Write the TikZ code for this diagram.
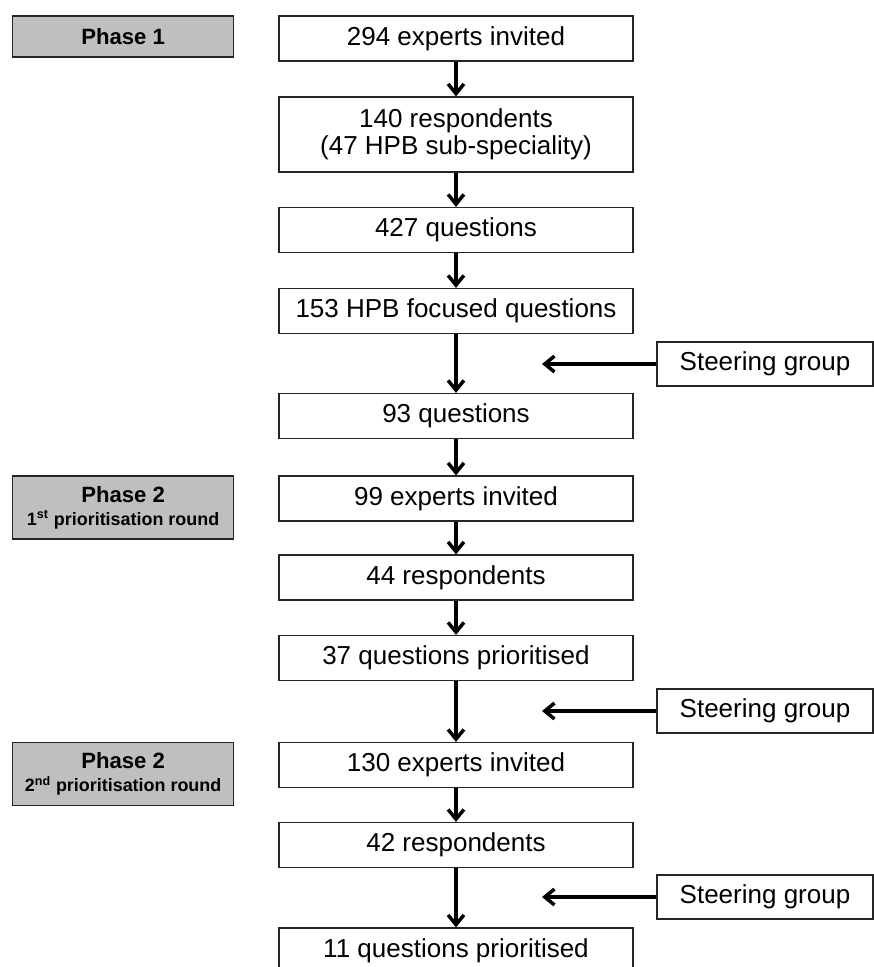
\documentclass[tikz,border=0pt]{standalone}
\usepackage{fontspec}
\setmainfont{Liberation Sans}
\usetikzlibrary{arrows.meta}

\begin{document}
\begin{tikzpicture}
    \tikzstyle{box} = [draw=black!85, line width=0.7pt, align=center, minimum width=7.08cm, minimum height=0.9cm, inner sep=2pt, font=\fontsize{14.8}{15.5}\selectfont]
    \tikzstyle{phase} = [box, fill=black!25, minimum width=4.42cm, minimum height=0.82cm, anchor=north west, font=\bfseries\fontsize{12.6}{13}\selectfont]
    \tikzstyle{steer} = [box, minimum width=4.32cm, minimum height=0.88cm]
    \tikzstyle{flow} = [line width=2pt, -{Straight Barb[length=5.5pt, width=9pt]}]

    \useasboundingbox (0,0) rectangle (17.46,-19.34);

    % main column
    \node (invA) [box] at (9.12,-0.77) {294 experts invited};
    \node (resA) [box, minimum height=1.5cm] at (9.12,-2.69) {140 respondents\\(47 HPB sub-speciality)};
    \node (qAll) [box] at (9.12,-4.60) {427 questions};
    \node (qHpb) [box] at (9.12,-6.22) {153 HPB focused questions};
    \node (qSel) [box] at (9.12,-8.32) {93 questions};
    \node (invB) [box] at (9.12,-9.97) {99 experts invited};
    \node (resB) [box] at (9.12,-11.55) {44 respondents};
    \node (prB) [box] at (9.12,-13.16) {37 questions prioritised};
    \node (invC) [box] at (9.12,-15.30) {130 experts invited};
    \node (resC) [box] at (9.12,-16.90) {42 respondents};
    \node (prC) [box] at (9.12,-19.01) {11 questions prioritised};

    % phase labels
    \coordinate (lft) at (0.24,0);
    \node (ph1) [phase] at (lft |- invA.north) {Phase 1};
    \node (ph2a) [phase, minimum height=1.26cm] at (lft |- invB.north) {Phase 2\\[0pt]{\fontsize{10.2}{12}\selectfont 1\textsuperscript{st} prioritisation round}};
    \node (ph2b) [phase, minimum height=1.26cm] at (lft |- invC.north) {Phase 2\\[0pt]{\fontsize{10.2}{12}\selectfont 2\textsuperscript{nd} prioritisation round}};

    % steering group
    \node (sgA) [steer] at (15.30,-7.28) {Steering group};
    \node (sgB) [steer] at (15.30,-14.22) {Steering group};
    \node (sgC) [steer] at (15.30,-17.94) {Steering group};
    \coordinate (tip) at (10.84,0);

    \draw[flow] (invA) -- (resA);
    \draw[flow] (resA) -- (qAll);
    \draw[flow] (qAll) -- (qHpb);
    \draw[flow] (qHpb) -- (qSel);
    \draw[flow] (qSel) -- (invB);
    \draw[flow] (invB) -- (resB);
    \draw[flow] (resB) -- (prB);
    \draw[flow] (prB) -- (invC);
    \draw[flow] (invC) -- (resC);
    \draw[flow] (resC) -- (prC);

    \draw[flow] (sgA.west) -- (sgA.west -| tip);
    \draw[flow] (sgB.west) -- (sgB.west -| tip);
    \draw[flow] (sgC.west) -- (sgC.west -| tip);

\end{tikzpicture}
\end{document}
